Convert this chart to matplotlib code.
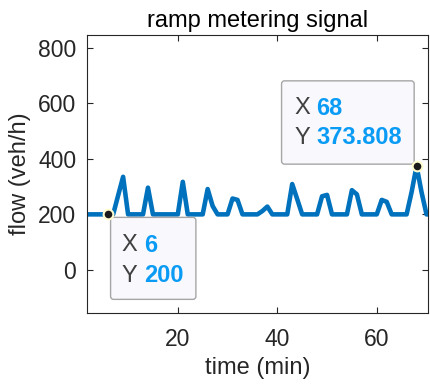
import matplotlib
matplotlib.use('Agg')
import matplotlib.pyplot as plt
import matplotlib.transforms as mtrans
from matplotlib.patches import FancyBboxPatch

# ramp metering signal, one sample per minute
time = list(range(1, 72))
flow = [200, 200, 200, 200, 200, 200, 200, 268, 335, 200,   # 1-10
        200, 200, 200, 296, 200, 200, 200, 200, 200, 200,   # 11-20
        317, 200, 200, 200, 200, 291, 230, 200, 200, 200,   # 21-30
        257, 252, 200, 200, 200, 200, 212, 228, 200, 200,   # 31-40
        200, 200, 309, 255, 200, 200, 200, 200, 265, 270,   # 41-50
        200, 200, 200, 200, 287, 272, 200, 200, 200, 200,   # 51-60
        252, 245, 200, 200, 200, 200, 280, 373.808, 280, 200,  # 61-70
        200]

tip_x = [6, 68]
tip_y = [200, 373.808]
tip_labels = [('6', '200'), ('68', '373.808')]

xticks = [20, 40, 60]
yticks = [0, 200, 400, 600, 800]

plt.rcParams['font.family'] = ['Liberation Sans', 'DejaVu Sans']
txt = '#262626'

fig = plt.figure(figsize=(4.30, 3.87), dpi=100)
ax = fig.add_axes([0.203, 0.191, 0.7935, 0.7185])

ax.plot(time, flow, color='#0072BD', lw=3.3, solid_joinstyle='round', zorder=2)
ax.set_xlim(1.8, 70.4)
ax.set_ylim(-155, 845)
ax.set_xticks(xticks)
ax.set_yticks(yticks)
ax.tick_params(direction='in', length=4, width=0.8, top=True, right=True,
               labelsize=16.5, colors=txt)
ax.tick_params(axis='x', pad=11)
ax.tick_params(axis='y', pad=8)
for s in ax.spines.values():
    s.set_color(txt)
    s.set_linewidth(0.8)

ax.set_title('ramp metering signal', fontsize=17, color='black', pad=6)
ax.set_xlabel('time (min)', fontsize=17, color=txt, labelpad=4)
ax.set_ylabel('flow (veh/h)', fontsize=17, color=txt, labelpad=5)

# data tips: box offsets in pixels relative to the picked point
boxes = [(2.4, -85, 85.3, 82), (-135, 1.9, 132.6, 83.3)]
label_dx = [13.4, -122.4]
value_dx = [36.0, -100.5]
row_dy = [(-30.7, -61.4), (57.9, 28.2)]

for i in range(2):
    px, py = tip_x[i], tip_y[i]
    tr = mtrans.Affine2D().scale(1.0) + mtrans.ScaledTranslation(px, py, ax.transData)
    bx, by, bw, bh = boxes[i]
    patch = FancyBboxPatch((bx, by), bw, bh, boxstyle='round,pad=0,rounding_size=3',
                           transform=tr, facecolor='#F8F8FD', edgecolor='#A6A6A6',
                           lw=1.0, zorder=4, clip_on=False)
    ax.add_patch(patch)
    for lab, val, dy in zip(('X', 'Y'), tip_labels[i], row_dy[i]):
        ax.annotate(lab, xy=(px, py), xytext=(label_dx[i], dy), textcoords='offset pixels',
                    fontsize=17, color='#404040', va='center', ha='left', zorder=5,
                    annotation_clip=False)
        ax.annotate(val, xy=(px, py), xytext=(value_dx[i], dy), textcoords='offset pixels',
                    fontsize=17, color='#0A9BF5', fontweight='bold', va='center',
                    ha='left', zorder=5, annotation_clip=False)
    ax.plot(px, py, 'o', ms=7, color='#1A1A1A', mec='#FFFCD0', mew=1.5,
            zorder=6, clip_on=False)

fig.savefig('out.png', dpi=100)
